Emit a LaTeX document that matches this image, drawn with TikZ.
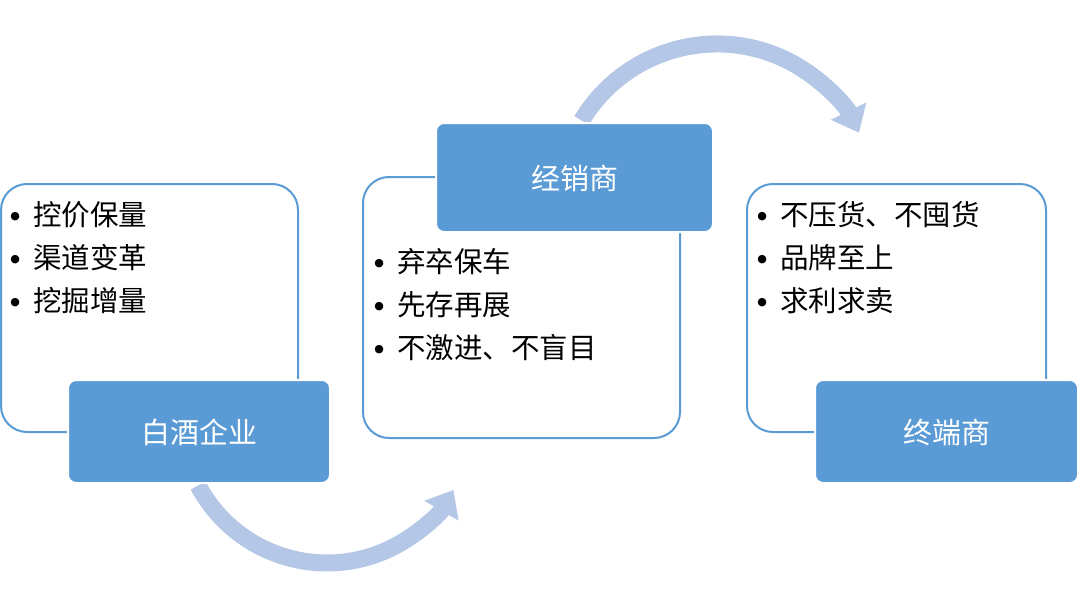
\documentclass[tikz,border=0pt]{standalone}
\usepackage{fontspec}
\setmainfont{Noto Sans CJK SC}
\newfontfamily\bulfont{DejaVu Sans}
\usetikzlibrary{arrows.meta}
\definecolor{mainblue}{HTML}{5B9BD5}
\definecolor{arrowblue}{HTML}{B4C7E7}
\newcommand{\blt}{\makebox[36pt][c]{\raisebox{6.5pt}{\bulfont\fontsize{11}{11}\selectfont ●}}}
\begin{document}
\begin{tikzpicture}[x=1pt,y=-1pt,
  outline/.style={draw=mainblue, line width=2pt, rounded corners=26pt, fill=white},
  titlebox/.style={draw=white, line width=2pt, fill=mainblue, rounded corners=8pt},
  titletext/.style={text=white, font=\fontsize{29}{34}\selectfont, inner sep=0pt},
  listtext/.style={text=black, font=\fontsize{28.5}{43}\selectfont, align=left, inner sep=0pt, anchor=west},
  bigarrow/.style={draw=arrowblue, line width=17pt, -{Triangle[width=38pt, length=24pt]}}]
\useasboundingbox (0,0) rectangle (1080,602);
\fill[white] (0,0) rectangle (1080,602);
% arrows
\coordinate (a1s) at (198.1,485.5);
\draw[bigarrow] (a1s) arc[start angle=152, end angle=30, radius=146];
\coordinate (a2s) at (581.6,120.6);
\draw[bigarrow] (a2s) arc[start angle=211, end angle=334, radius=158];
% outline boxes
\draw[outline] (1,184) rectangle (298,432);
\draw[outline] (363,177) rectangle (680,438);
\draw[outline] (747,184) rectangle (1046,432);
% title boxes
\draw[titlebox] (68,380) rectangle (330,483);
\draw[titlebox] (436,123) rectangle (713,232);
\draw[titlebox] (815,380) rectangle (1078,483);
\node[titletext] (t1) at (199,432) {白酒企业};
\node[titletext] (t2) at (575,178) {经销商};
\node[titletext] (t3) at (947,432) {终端商};
% lists
\node[listtext] (l1) at (-3,258) {\blt 控价保量\\\blt 渠道变革\\\blt 挖掘增量};
\node[listtext] (l2) at (361,305) {\blt 弃卒保车\\\blt 先存再展\\\blt 不激进、不盲目};
\node[listtext] (l3) at (744,258) {\blt 不压货、不囤货\\\blt 品牌至上\\\blt 求利求卖};
\end{tikzpicture}
\end{document}
